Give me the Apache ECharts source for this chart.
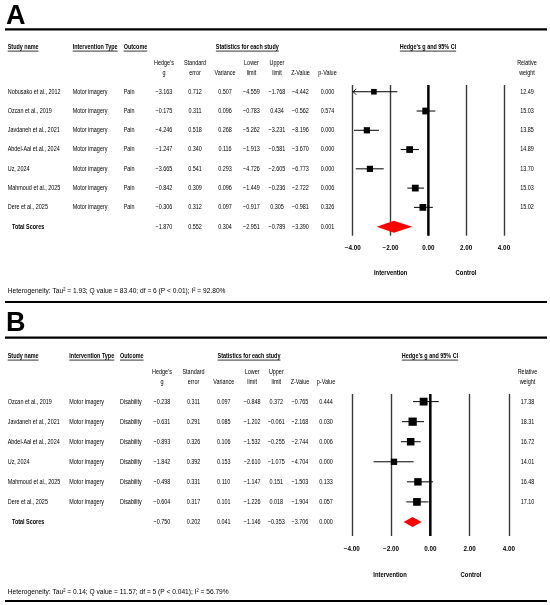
<!DOCTYPE html>
<html>
<head>
<meta charset="utf-8">
<script src="https://cdn.jsdelivr.net/npm/echarts@6/dist/echarts.min.js"></script>
<style>
    html, body { margin: 0; padding: 0; background: #fff; }
    #chart { width: 550px; height: 605px; }
</style>
</head>
<body>
<div id="chart"></div>
<script>
// ---- panel A : pain ----
const studiesA = ['Nobusako et al., 2012', 'Ozcan et al., 2019', 'Javdaneh et al., 2021', 'Abdel-Aal et al., 2024', 'Uz, 2024', 'Mahmoud et al., 2025', 'Dere et al., 2025'];
const hedgeA = [-3.163, -0.175, -4.246, -1.247, -3.665, -0.842, -0.306];
const seA = [0.712, 0.311, 0.518, 0.340, 0.541, 0.309, 0.312];
const varA = [0.507, 0.096, 0.268, 0.116, 0.293, 0.096, 0.097];
const lowerA = [-4.559, -0.783, -5.262, -1.913, -4.726, -1.449, -0.917];
const upperA = [-1.768, 0.434, -3.231, -0.581, -2.605, -0.236, 0.305];
const zA = [-4.442, -0.562, -8.196, -3.670, -6.773, -2.722, -0.981];
const pA = [0.000, 0.574, 0.000, 0.000, 0.000, 0.006, 0.326];
const weightA = [12.49, 15.03, 13.85, 14.89, 13.70, 15.03, 15.02];
const totalA = [-1.870, 0.552, 0.304, -2.951, -0.789, -3.390, 0.001];
// where the boxes, whiskers and diamond sit on the plotted axis
const plotMidA = [-2.88, -0.14, -3.25, -0.99, -3.09, -0.69, -0.29];
const plotLowA = [-4.56, -0.62, -3.93, -1.46, -3.84, -1.11, -0.76];
const plotHighA = [-1.64, 0.37, -2.61, -0.50, -2.36, -0.23, 0.24];
const plotTotalA = [-1.82, -2.73, -0.85];
const hetA = 'Heterogeneity: Tau² = 1.93; Q value = 83.40; df = 6 (P < 0.01); I² = 92.80%';

// ---- panel B : disability ----
const studiesB = ['Ozcan et al., 2019', 'Javdaneh et al., 2021', 'Abdel-Aal et al., 2024', 'Uz, 2024', 'Mahmoud et al., 2025', 'Dere et al., 2025'];
const hedgeB = [-0.238, -0.631, -0.893, -1.842, -0.498, -0.604];
const seB = [0.311, 0.291, 0.326, 0.392, 0.331, 0.317];
const varB = [0.097, 0.085, 0.106, 0.153, 0.110, 0.101];
const lowerB = [-0.848, -1.202, -1.532, -2.610, -1.147, -1.226];
const upperB = [0.372, -0.061, -0.255, -1.075, 0.151, 0.018];
const zB = [-0.765, -2.168, -2.744, -4.704, -1.503, -1.904];
const pB = [0.444, 0.030, 0.006, 0.000, 0.133, 0.057];
const weightB = [17.38, 18.31, 16.72, 14.01, 16.48, 17.10];
const totalB = [-0.750, 0.202, 0.041, -1.146, -0.353, -3.706, 0.000];
const plotMidB = [-0.34, -0.90, -1.00, -1.85, -0.63, -0.68];
const plotLowB = [-0.88, -1.44, -1.50, -2.89, -1.19, -1.22];
const plotHighB = [0.43, -0.32, -0.49, -0.85, 0.14, -0.09];
const plotTotalB = [-0.90, -1.36, -0.44];
const hetB = 'Heterogeneity: Tau² = 0.14; Q value = 11.57; df = 5 (P < 0.041); I² = 56.79%';

const FONT = '"Liberation Sans", Arial, sans-serif';
const FS = 6.8;
const NARROW = 0.8; // the figure uses a condensed face, squeeze the text to match
const X_MIN = -4, X_MAX = 4;

let measureCtx = document.createElement('canvas').getContext('2d');
function textWidth(str, size, weight) {
    measureCtx.font = weight + ' ' + size + 'px ' + FONT;
    return measureCtx.measureText(str).width;
}

function fmt(v, d) {
    let s = Math.abs(v).toFixed(d);
    return v < 0 ? '\u2212' + s : s;
}

let graphics = [];

function addText(str, x, y, opts = {}) {
    let size = opts.size || FS;
    let weight = opts.bold ? 'bold' : 'normal';
    let align = opts.align || 'left';
    let sx = opts.scale || NARROW;
    graphics.push({
        type: 'text',
        x: x,
        y: y,
        scaleX: sx,
        silent: true,
        style: {
            text: str,
            font: weight + ' ' + size + 'px ' + FONT,
            fill: '#000',
            textAlign: align,
            textVerticalAlign: 'middle'
        }
    });
    if (opts.underline) {
        let w = textWidth(str, size, weight) * sx;
        let x0 = align === 'center' ? x - w / 2 : (align === 'right' ? x - w : x);
        addLine(x0, y + size * 0.6, x0 + w, y + size * 0.6, 0.8);
    }
}

function addLine(x1, y1, x2, y2, width) {
    graphics.push({
        type: 'line',
        silent: true,
        shape: { x1: x1, y1: y1, x2: x2, y2: y2 },
        style: { stroke: '#000', lineWidth: width }
    });
}

// builds the text table of one panel
function buildTable(p) {
    addText(p.letter, 6, p.letterY, { size: 27, bold: true, scale: 1 });
    addLine(5, p.ruleY, 547, p.ruleY, 2.2);

    let c = p.cols;
    addText('Study name', 7.7, p.headY, { bold: true, underline: true });
    addText('Intervention Type', c.type, p.headY, { bold: true, underline: true });
    addText('Outcome', c.outcome, p.headY, { bold: true, underline: true });
    addText('Statistics for each study', c.stats, p.headY, { bold: true, underline: true, align: 'center' });
    addText('Hedge\u2019s g and 95% CI', c.ci, p.headY, { bold: true, underline: true, align: 'center' });

    let sub1 = [['Hedge\u2019s', c.g], ['Standard', c.se], ['Lower', c.lo], ['Upper', c.hi], ['Relative', c.w]];
    let sub2 = [['g', c.g], ['error', c.se], ['Variance', c.v], ['limit', c.lo], ['limit', c.hi], ['Z-Value', c.z], ['p-Value', c.p], ['weight', c.w]];
    sub1.forEach(s => addText(s[0], s[1], p.sub1Y, { align: 'center' }));
    sub2.forEach(s => addText(s[0], s[1], p.sub2Y, { align: 'center' }));

    for (let i = 0; i < p.studies.length; i++) {
        let y = p.rowY + i * p.rowH;
        addText(p.studies[i], 7.7, y);
        addText('Motor imagery', c.type, y);
        addText(p.outcome, c.outcome, y);
        addText(fmt(p.hedge[i], 3), c.g, y, { align: 'center' });
        addText(fmt(p.se[i], 3), c.se, y, { align: 'center' });
        addText(fmt(p.variance[i], 3), c.v, y, { align: 'center' });
        addText(fmt(p.lower[i], 3), c.lo, y, { align: 'center' });
        addText(fmt(p.upper[i], 3), c.hi, y, { align: 'center' });
        addText(fmt(p.z[i], 3), c.z, y, { align: 'center' });
        addText(fmt(p.p[i], 3), c.p, y, { align: 'center' });
        addText(p.weight[i].toFixed(2), c.w, y, { align: 'center' });
    }
    let ty = p.rowY + p.studies.length * p.rowH;
    let t = p.total;
    addText('Total Scores', 12, ty, { bold: true });
    [c.g, c.se, c.v, c.lo, c.hi, c.z, c.p].forEach((x, k) => addText(fmt(t[k], 3), x, ty, { align: 'center' }));

    addText('Intervention', p.sideX[0], p.sideY, { bold: true, align: 'center', scale: 0.86 });
    addText('Control', p.sideX[1], p.sideY, { bold: true, align: 'center', scale: 0.86 });
    addText(p.het, 7.7, p.hetY, { size: 7.2, scale: 0.92 });
}

const panelA = {
    letter: 'A', letterY: 17, ruleY: 29.3, headY: 47, sub1Y: 63, sub2Y: 73.3,
    rowY: 91.7, rowH: 19.29, outcome: 'Pain',
    cols: { type: 72.7, outcome: 123.7, stats: 247.3, ci: 428, g: 164, se: 195, v: 225, lo: 251.5, hi: 277, z: 300.5, p: 327.5, w: 527 },
    studies: studiesA, hedge: hedgeA, se: seA, variance: varA, lower: lowerA, upper: upperA, z: zA, p: pA, weight: weightA, total: totalA,
    sideX: [390.7, 466], sideY: 272.7, het: hetA, hetY: 290.7
};
const panelB = {
    letter: 'B', letterY: 324, ruleY: 337.7, headY: 356, sub1Y: 371.7, sub2Y: 382,
    rowY: 401.7, rowH: 20.05, outcome: 'Disability',
    cols: { type: 69.3, outcome: 120, stats: 249, ci: 430, g: 162, se: 193.5, v: 223.7, lo: 252.2, hi: 276.3, z: 300, p: 326, w: 527.5 },
    studies: studiesB, hedge: hedgeB, se: seB, variance: varB, lower: lowerB, upper: upperB, z: zB, p: pB, weight: weightB, total: totalB,
    sideX: [390, 471], sideY: 575.3, het: hetB, hetY: 591.7
};
buildTable(panelA);
buildTable(panelB);
addLine(5, 302, 547, 302, 2.2);
addLine(5, 601, 547, 601, 2.2);

// forest plot pieces
function studyItem(params, api) {
    let row = api.value(0);
    let mid = api.value(1), lo = api.value(2), hi = api.value(3);
    let size = api.value(4) * 0.45;
    let pLo = api.coord([Math.max(lo, X_MIN), row]);
    let pHi = api.coord([Math.min(hi, X_MAX), row]);
    let pMid = api.coord([mid, row]);
    let children = [
        { type: 'line', shape: { x1: pLo[0], y1: pLo[1], x2: pHi[0], y2: pHi[1] }, style: { stroke: '#000', lineWidth: 1 } },
        { type: 'rect', shape: { x: pMid[0] - size / 2, y: pMid[1] - size / 2, width: size, height: size }, style: { fill: '#000' } }
    ];
    if (lo < X_MIN) {
        children.push({
            type: 'polyline',
            shape: { points: [[pLo[0] + 3.5, pLo[1] - 3], [pLo[0] + 0.5, pLo[1]], [pLo[0] + 3.5, pLo[1] + 3]] },
            style: { stroke: '#000', lineWidth: 0.9, fill: null }
        });
    }
    return { type: 'group', children: children };
}

function diamondItem(halfH) {
    return function (params, api) {
        let row = api.value(0);
        let pMid = api.coord([api.value(1), row]);
        let pLo = api.coord([api.value(2), row]);
        let pHi = api.coord([api.value(3), row]);
        return {
            type: 'polygon',
            shape: { points: [[pLo[0], pLo[1]], [pMid[0], pMid[1] - halfH], [pHi[0], pHi[1]], [pMid[0], pMid[1] + halfH]] },
            style: { fill: '#ff0000' }
        };
    };
}

function zeroLine(yMin, yMax) {
    return function (params, api) {
        let a = api.coord([0, yMin]);
        let b = api.coord([0, yMax]);
        return { type: 'line', shape: { x1: a[0], y1: a[1], x2: b[0], y2: b[1] }, style: { stroke: '#000', lineWidth: 2.4 } };
    };
}

function forestAxis(gridIndex, margin) {
    return {
        type: 'value', gridIndex: gridIndex, min: X_MIN, max: X_MAX, interval: 2,
        axisLine: { show: false }, axisTick: { show: false },
        splitLine: { show: true, lineStyle: { color: '#3a3a3a', width: 1.4 } },
        axisLabel: { formatter: v => fmt(v, 2), color: '#000', fontFamily: '"Liberation Sans Narrow", ' + FONT, fontSize: 6.3, fontWeight: 'bold', margin: margin }
    };
}

const rowsA = studiesA.map((s, i) => [i, plotMidA[i], plotLowA[i], plotHighA[i], weightA[i]]);
const rowsB = studiesB.map((s, i) => [i, plotMidB[i], plotLowB[i], plotHighB[i], weightB[i]]);
const yRangeA = [-0.35, 7.47];
const yRangeB = [-0.38, 6.70];

let option = {
    animation: false,
    backgroundColor: '#fff',
    grid: [
        { left: 352.7, top: 85, width: 151.3, height: 150.7 },
        { left: 351.8, top: 394, width: 157, height: 142 }
    ],
    xAxis: [forestAxis(0, 9.5), forestAxis(1, 10.5)],
    yAxis: [
        { type: 'value', gridIndex: 0, inverse: true, min: yRangeA[0], max: yRangeA[1], show: false },
        { type: 'value', gridIndex: 1, inverse: true, min: yRangeB[0], max: yRangeB[1], show: false }
    ],
    graphic: { elements: graphics },
    series: [
        { type: 'custom', xAxisIndex: 0, yAxisIndex: 0, renderItem: zeroLine(yRangeA[0], yRangeA[1]), data: [[0]], z: 2 },
        { type: 'custom', xAxisIndex: 0, yAxisIndex: 0, renderItem: studyItem, data: rowsA, z: 3, clip: false },
        { type: 'custom', xAxisIndex: 0, yAxisIndex: 0, renderItem: diamondItem(6), data: [[studiesA.length].concat(plotTotalA)], z: 3 },
        { type: 'custom', xAxisIndex: 1, yAxisIndex: 1, renderItem: zeroLine(yRangeB[0], yRangeB[1]), data: [[0]], z: 2 },
        { type: 'custom', xAxisIndex: 1, yAxisIndex: 1, renderItem: studyItem, data: rowsB, z: 3, clip: false },
        { type: 'custom', xAxisIndex: 1, yAxisIndex: 1, renderItem: diamondItem(5), data: [[studiesB.length].concat(plotTotalB)], z: 3 }
    ]
};

let myChart = echarts.init(document.getElementById('chart'));
myChart.setOption(option);
</script>
</body>
</html>
